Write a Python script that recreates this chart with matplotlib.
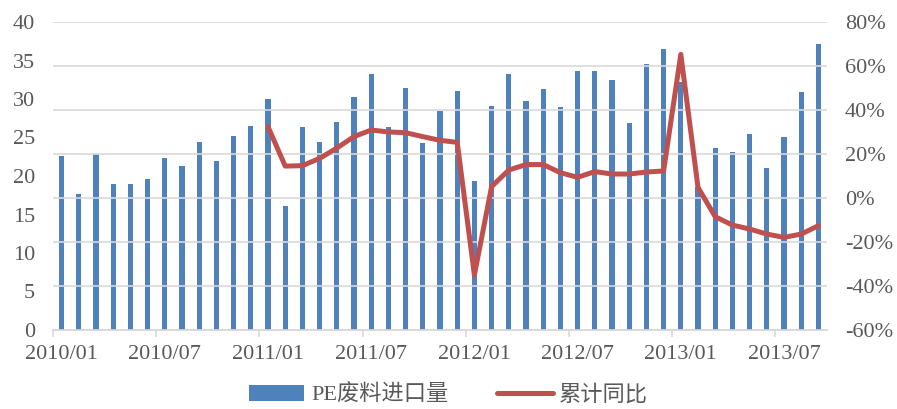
import numpy as np
import matplotlib.pyplot as plt
from matplotlib.ticker import FixedLocator

plt.rcParams['font.family'] = ['Liberation Serif', 'Noto Sans CJK SC']

# months 2010/01 .. 2013/09
months = ['%d/%02d' % (y, m) for y in range(2010, 2014) for m in range(1, 13)][:45]

# PE废料进口量 (万吨)
volume = [22.6, 17.6, 22.8, 19.0, 19.0, 19.6, 22.4, 21.3, 24.4, 22.0, 25.2, 26.5,
          30.0, 16.1, 26.4, 24.4, 27.0, 30.2, 33.2, 26.4, 31.4, 24.3, 28.5, 31.1,
          19.4, 29.1, 33.2, 29.7, 31.3, 29.0, 33.7, 33.7, 32.5, 26.9, 34.6, 36.5,
          32.2, 18.6, 23.6, 23.1, 25.4, 21.0, 25.1, 30.9, 37.1]

# 累计同比 (%)
yoy = [np.nan] * 12 + [32.4, 14.5, 14.7, 18.0, 22.7, 27.9, 30.9, 30.0, 29.7, 27.9, 26.2, 25.3,
                       -35.0, 5.2, 12.7, 15.2, 15.2, 11.5, 9.4, 12.0, 10.9, 10.9, 11.8, 12.3,
                       65.3, 4.8, -8.5, -12.3, -14.1, -16.4, -17.9, -16.4, -12.6]

blue = '#4F81BD'
red = '#C0504D'
grey = '#595959'
gridc = '#D9D9D9'

fig = plt.figure(figsize=(8.97, 4.09), dpi=100)
ax = fig.add_axes([53 / 897, 1 - 330 / 409, 774 / 897, 308 / 409])
ax2 = ax.twinx()

x = np.arange(len(months))

# gridlines follow the secondary axis
for v in range(-40, 81, 20):
    ax2.axhline(v, color=gridc, lw=1.2, zorder=0)

b = ax.bar(x, volume, width=0.3, color=blue, zorder=3)
ln, = ax2.plot(x, yoy, color=red, lw=3.6, zorder=4, solid_capstyle='round')

# bars over gridlines, line over bars
ax.set_zorder(1)
ax2.set_zorder(2)
ax2.patch.set_visible(False)

ax.set_xlim(-0.5, len(months) - 0.5)
ax.set_ylim(0, 40)
ax.set_yticks(np.arange(0, 41, 5))
ax2.set_ylim(-60, 80)
ax2.set_yticks(np.arange(-60, 81, 20))
ax2.set_yticklabels(['%d%%' % v for v in range(-60, 81, 20)])

ax.set_xticks(x[::6])
ax.set_xticklabels(months[::6])
ax.xaxis.set_minor_locator(FixedLocator(np.arange(-0.5, len(months) - 1, 6)))
ax.tick_params(axis='x', which='major', length=0, pad=11, labelsize=16, labelcolor=grey)
ax.tick_params(axis='x', which='minor', length=5, color=gridc, width=1.2)
ax.tick_params(axis='y', length=0, labelsize=16, labelcolor=grey, pad=13)
ax2.tick_params(axis='y', length=0, labelsize=16, labelcolor=grey, pad=13)

for a in (ax, ax2):
    for s in ['top', 'left', 'right']:
        a.spines[s].set_visible(False)
    a.spines['bottom'].set_color(gridc)
    a.spines['bottom'].set_linewidth(1.2)

fig.legend([b, ln], ['PE废料进口量', '累计同比'], loc='center', bbox_to_anchor=(0.5, 1 - 395 / 409),
           ncol=2, frameon=False, fontsize=16, handlelength=2.5, columnspacing=2.2,
           labelcolor=grey, handletextpad=0.3)

fig.savefig('out.png', dpi=100)
